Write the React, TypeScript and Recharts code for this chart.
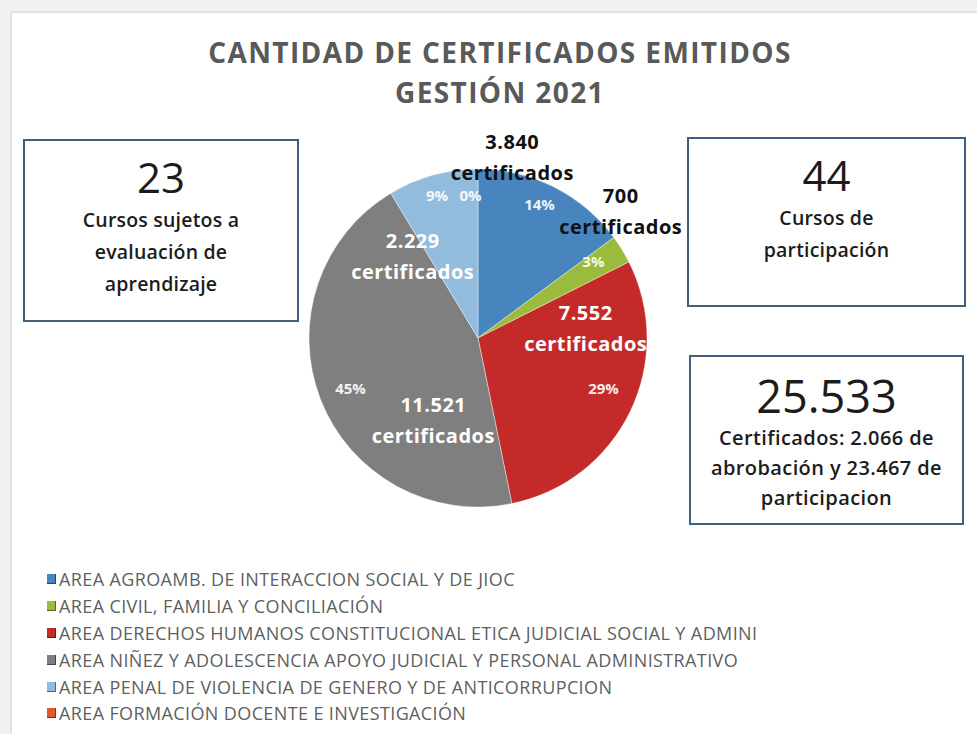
import { PieChart, Pie, Cell, Legend } from "recharts";

// Certificados emitidos por área, gestión 2021
const AREAS = [
  "AREA AGROAMB. DE INTERACCION SOCIAL Y DE JIOC",
  "AREA CIVIL, FAMILIA Y CONCILIACIÓN",
  "AREA DERECHOS HUMANOS CONSTITUCIONAL ETICA JUDICIAL SOCIAL Y ADMINI",
  "AREA NIÑEZ Y ADOLESCENCIA APOYO JUDICIAL Y PERSONAL ADMINISTRATIVO",
  "AREA PENAL DE VIOLENCIA DE GENERO Y DE ANTICORRUPCION",
  "AREA FORMACIÓN DOCENTE E INVESTIGACIÓN",
];
const CERTIFICADOS = [3840, 700, 7552, 11521, 2229, 0];
const COUNT_LABELS = ["3.840", "700", "7.552", "11.521", "2.229", ""];
const PCT_LABELS = ["14%", "3%", "29%", "45%", "9%", "0%"];

const COLORS = ["#4884be", "#9bbb3c", "#c42a2a", "#7f7f7f", "#93bbde", "#e0592b"];
const COUNT_INK = ["#111111", "#111111", "#ffffff", "#ffffff", "#ffffff", "#ffffff"];

// where each slice's labels sit: turn = degrees clockwise from the slice middle, reach = share of radius
const COUNT_SPOTS = [
  { turn: -16, reach: 1.09 },
  { turn: -10, reach: 1.13 },
  { turn: -31, reach: 0.64 },
  { turn: -40, reach: 0.55 },
  { turn: -23, reach: 0.62 },
  { turn: 0, reach: 0 },
];
const PCT_SPOTS = [
  { turn: -2, reach: 0.87 },
  { turn: -2, reach: 0.82 },
  { turn: -4, reach: 0.8 },
  { turn: 0, reach: 0.81 },
  { turn: -0.5, reach: 0.88 },
  { turn: -3, reach: 0.85 },
];

const data = AREAS.map((name, i) => ({ name, value: CERTIFICADOS[i] }));

const FONT = "'Open Sans', 'Noto Sans', sans-serif";
const RAD = Math.PI / 180;

function at(cx: number, cy: number, r: number, angle: number) {
  return { x: cx + r * Math.cos(-angle * RAD), y: cy + r * Math.sin(-angle * RAD) };
}

const renderLabel = (props: any) => {
  const { cx, cy, midAngle, outerRadius, index } = props;
  const pSpot = PCT_SPOTS[index];
  const cSpot = COUNT_SPOTS[index];
  const p = at(cx, cy, outerRadius * pSpot.reach, midAngle - pSpot.turn);
  const c = at(cx, cy, outerRadius * cSpot.reach, midAngle - cSpot.turn);
  return (
    <g key={`lbl-${index}`} style={{ fontFamily: FONT }}>
      <text x={p.x} y={p.y} fill="#ffffff" fontSize={15} fontWeight={700} textAnchor="middle" dominantBaseline="central" opacity={0.9}>
        {PCT_LABELS[index]}
      </text>
      {COUNT_LABELS[index] && (
        <text x={c.x} y={c.y} fill={COUNT_INK[index]} fontSize={20} fontWeight={700} textAnchor="middle" letterSpacing={0.5}>
          <tspan x={c.x} dy={-8}>{COUNT_LABELS[index]}</tspan>
          <tspan x={c.x} dy={31}>certificados</tspan>
        </text>
      )}
    </g>
  );
};

const renderLegend = (props: any) => {
  const items = [...(props.payload || [])].sort(
    (a: any, b: any) => AREAS.indexOf(a.value) - AREAS.indexOf(b.value)
  );
  return (
    <div style={{ fontFamily: FONT }}>
      {items.map((item: any, i: number) => (
        <div key={i} style={{ display: "flex", alignItems: "center", height: 26.8 }}>
          <span style={{ width: 9, height: 10, background: item.color, marginRight: 3, boxShadow: "inset -1px -1px 0 rgba(0,0,0,0.45)" }} />
          <span style={{ fontSize: 18, color: "#5f5f5f", whiteSpace: "nowrap", letterSpacing: 0.38 }}>{item.value}</span>
        </div>
      ))}
    </div>
  );
};

function InfoBox({ left, top, width, height, big, bigSize, bigTop, lines, lineH, textSize, spacing }: any) {
  return (
    <div
      style={{
        position: "absolute",
        left,
        top,
        width,
        height,
        boxSizing: "border-box",
        border: "2px solid #3f5f7d",
        background: "#ffffff",
        textAlign: "center",
        fontFamily: FONT,
        color: "#1c1c1c",
      }}
    >
      <div style={{ position: "absolute", left: 0, right: 0, top: bigTop, fontSize: bigSize, lineHeight: "52px" }}>{big}</div>
      <div
        style={{
          position: "absolute",
          left: 0,
          right: 0,
          top: bigTop + 53,
          fontSize: textSize,
          fontWeight: 600,
          letterSpacing: spacing,
          lineHeight: `${lineH}px`,
          whiteSpace: "nowrap",
        }}
      >
        {lines.map((l: string, i: number) => (
          <div key={i}>{l}</div>
        ))}
      </div>
    </div>
  );
}

export default function App() {
  return (
    <div style={{ position: "absolute", left: 0, top: 0, width: 977, height: 734, background: "#f1f1f1", overflow: "hidden" }}>
      <div style={{ position: "absolute", left: 10, top: 11, right: 0, bottom: 0, background: "#ffffff", borderLeft: "2px solid #e2e2e2", borderTop: "2px solid #e2e2e2" }} />
      <div
        style={{
          position: "absolute",
          left: 100,
          width: 800,
          top: 32,
          textAlign: "center",
          fontFamily: FONT,
          fontWeight: 700,
          fontSize: 28,
          letterSpacing: 1.4,
          lineHeight: "40px",
          color: "#595959",
        }}
      >
        <div>CANTIDAD DE CERTIFICADOS EMITIDOS</div>
        <div>GESTIÓN 2021</div>
      </div>

      <InfoBox left={23} top={139} width={276} height={183} big="23" bigSize={42} bigTop={10} lineH={32} textSize={19.5} spacing={0.2}
        lines={["Cursos sujetos a", "evaluación de", "aprendizaje"]} />
      <InfoBox left={687} top={137} width={279} height={170} big="44" bigSize={42} bigTop={10} lineH={32} textSize={19.5} spacing={0.2}
        lines={["Cursos de", "participación"]} />
      <InfoBox left={689} top={355} width={275} height={170} big="25.533" bigSize={45} bigTop={13} lineH={30} textSize={20} spacing={0.4}
        lines={["Certificados: 2.066 de", "abrobación y 23.467 de", "participacion"]} />

      <div style={{ position: "absolute", left: 0, top: 0 }}>
        <PieChart width={977} height={734} margin={{ top: 0, right: 0, bottom: 0, left: 0 }}>
          <Pie
            data={data}
            dataKey="value"
            nameKey="name"
            cx={478}
            cy={338}
            outerRadius={169}
            startAngle={90}
            endAngle={-270}
            stroke="rgba(255,255,255,0.5)"
            strokeWidth={0.8}
            label={renderLabel}
            labelLine={false}
            isAnimationActive={false}
          >
            {data.map((d, i) => (
              <Cell key={d.name} fill={COLORS[i]} />
            ))}
          </Pie>
          <Legend
            layout="horizontal"
            verticalAlign="bottom"
            content={renderLegend}
            wrapperStyle={{ position: "absolute", left: 47, top: 566, width: 850 }}
          />
        </PieChart>
      </div>
    </div>
  );
}
